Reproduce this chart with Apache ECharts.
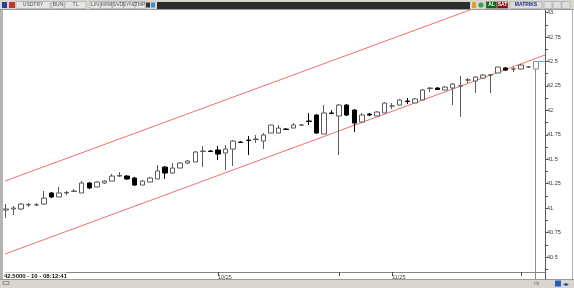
<!DOCTYPE html>
<html><head><meta charset="utf-8">
<script src="https://cdn.jsdelivr.net/npm/echarts@6/dist/echarts.min.js"></script>
<style>html,body{margin:0;padding:0;background:#fff;overflow:hidden}#c{width:574px;height:288px}</style>
</head><body><div id="c"></div>
<script>
// Daily USDTRY candles, left to right
const opens = [40.981,40.991,40.991,41.032,41.032,41.042,41.155,41.114,41.155,41.170,
41.155,41.257,41.216,41.257,41.277,41.328,41.328,41.308,41.236,41.267,
41.298,41.420,41.359,41.410,41.461,41.472,41.579,41.584,41.594,41.564,
41.604,41.676,41.696,41.702,41.686,41.768,41.768,41.809,41.819,41.850,
41.891,41.952,41.758,41.973,41.942,42.054,42.003,41.880,41.962,41.942,
41.973,42.044,42.054,42.095,42.075,42.106,42.223,42.228,42.208,42.228,
42.249,42.310,42.300,42.330,42.361,42.382,42.433,42.422,42.422,42.443,
42.422];
const closes = [40.991,41.001,41.042,41.037,41.033,41.103,41.114,41.155,41.160,41.175,
41.257,41.206,41.267,41.277,41.328,41.334,41.298,41.236,41.277,41.308,
41.380,41.359,41.410,41.461,41.482,41.574,41.584,41.579,41.553,41.604,
41.686,41.671,41.691,41.707,41.748,41.850,41.819,41.804,41.850,41.851,
41.886,41.768,41.973,41.967,42.054,41.952,41.870,41.952,41.952,41.983,
42.075,42.045,42.106,42.090,42.116,42.208,42.228,42.213,42.238,42.269,
42.250,42.311,42.341,42.361,42.362,42.443,42.412,42.423,42.463,42.444,
42.500];
const lows = [40.899,40.930,40.981,41.011,41.022,41.032,41.103,41.114,41.134,41.165,
41.155,41.195,41.216,41.247,41.277,41.318,41.288,41.226,41.236,41.267,
41.298,41.298,41.349,41.410,41.451,41.472,41.420,41.574,41.492,41.390,
41.431,41.666,41.543,41.666,41.604,41.768,41.768,41.799,41.819,41.840,
41.850,41.758,41.758,41.962,41.543,41.942,41.778,41.870,41.942,41.942,
41.973,42.013,42.054,42.065,42.075,42.106,42.187,42.208,42.208,42.054,
41.932,42.279,42.177,42.330,42.177,42.382,42.402,42.392,42.422,42.433,
40.200];
const highs = [41.042,41.022,41.052,41.052,41.052,41.175,41.165,41.216,41.175,41.195,
41.277,41.267,41.277,41.288,41.349,41.369,41.339,41.318,41.288,41.318,
41.441,41.431,41.461,41.472,41.492,41.584,41.635,41.594,41.635,41.645,
41.696,41.686,41.737,41.748,41.768,41.850,41.850,41.819,41.870,41.860,
41.973,41.962,42.054,42.003,42.065,42.065,42.013,41.973,41.973,41.993,
42.085,42.075,42.116,42.126,42.126,42.218,42.238,42.238,42.249,42.279,
42.351,42.330,42.351,42.371,42.371,42.443,42.443,42.443,42.474,42.453,
42.504];

const yTickLabels = [40.5,40.75,41,41.25,41.5,41.75,42,42.25,42.5,42.75,43];
const yMinorTicks = [40.375,40.5,40.625,40.75,40.875,41,41.125,41.25,41.375,41.5,41.625,41.75,41.875,42,42.125,42.25,42.375,42.5,42.625,42.75,42.875,43];
const xTickIndex = [28, 51];
const xTickLabels = ['10/25', '11/25'];
const xMarkerIndex = [28, 44, 51, 68];

// Regression channel end points
const channelX = [-0.132, 71.19];
const channelLower = [40.531, 42.566];
const channelUpper = [41.277, 43.309];
const lastPrice = 42.5;
const statusText = '42.5000 - 10 - 08:12:41';

const candleData = opens.map((o, i) => {
  const v = [i, o, closes[i], lows[i], highs[i]];
  return i === opens.length - 1 ? {value: v, itemStyle: {borderColor: '#8c8c8c'}} : v;
});
const FONT = 'Liberation Sans';

function btn(x, w, label, fill, color, bold) {
  const els = [{type:'rect', shape:{x:x, y:1.5, width:w, height:7}, style:{fill:fill, stroke:'#a4a4a4', lineWidth:0.6}, z:101}];
  if (label) els.push({type:'text', x:x + w/2, y:5, style:{text:label, fill:color, font:(bold?'bold ':'') + '5px ' + FONT, align:'center', verticalAlign:'middle'}, z:102});
  return els;
}

const graphics = [].concat(
  [{type:'rect', shape:{x:0,y:0,width:574,height:10}, style:{fill:'#d9d6d0'}, z:100},
   {type:'line', shape:{x1:0,y1:9.5,x2:574,y2:9.5}, style:{stroke:'#9a9a9a', lineWidth:1}, z:100},
   {type:'rect', shape:{x:2,y:2,width:5,height:6}, style:{fill:'#2a3c9c'}, z:101},
   {type:'rect', shape:{x:9,y:2,width:6,height:6}, style:{fill:'#c83030'}, z:101}],
  btn(16, 34, 'USDTRY', '#e6e6e6', '#555'),
  btn(52, 12, 'BUN', '#e6e6e6', '#555'),
  btn(65, 21, 'TL', '#e6e6e6', '#555'),
  btn(90, 10, 'LIN', '#e6e6e6', '#555'),
  btn(101, 11, 'KRM', '#e6e6e6', '#555'),
  btn(113, 10, 'SVD', '#e6e6e6', '#555'),
  btn(124, 11, 'SYNC', '#e6e6e6', '#555'),
  btn(135, 10, 'TMP', '#e6e6e6', '#555'),
  [{type:'rect', shape:{x:146,y:2.5,width:4,height:5}, style:{fill:'#333'}, z:101},
   {type:'rect', shape:{x:151,y:2.5,width:4,height:5}, style:{fill:'#3a8ee0'}, z:101},
   {type:'rect', shape:{x:157,y:2,width:313,height:7}, style:{fill:'#2c2c2c'}, z:101},
   {type:'rect', shape:{x:472,y:2,width:4,height:6}, style:{fill:'#e0a030'}, z:101},
   {type:'circle', shape:{cx:481,cy:5,r:2.6}, style:{fill:'#3aa04a'}, z:101}],
  btn(486, 11, 'AL', '#0e6a16', '#fff', true),
  btn(497, 11, 'SAT', '#8a1010', '#fff', true),
  btn(510, 32, 'MATRIKS', '#dcdcdc', '#1e2e88', true),
  btn(544, 8, '', '#e0e0e0', '#333'),
  btn(553, 8, '', '#e0e0e0', '#333'),
  btn(562, 8, '', '#e0e0e0', '#333'),
  [{type:'rect', shape:{x:0,y:10,width:3,height:270}, style:{fill:'#b4b4b4'}, z:100},
   {type:'line', shape:{x1:572.5,y1:10,x2:572.5,y2:280}, style:{stroke:'#b0b0b0', lineWidth:1}, z:100},
   {type:'line', shape:{x1:545.5,y1:272,x2:545.5,y2:280}, style:{stroke:'#555', lineWidth:1}, z:100},
   {type:'rect', shape:{x:0,y:280,width:574,height:8}, style:{fill:'#d9d6d0'}, z:100},
   {type:'line', shape:{x1:0,y1:279.5,x2:574,y2:279.5}, style:{stroke:'#9a9a9a', lineWidth:1}, z:100},
   {type:'rect', shape:{x:3,y:281.5,width:6,height:3}, style:{fill:'none', stroke:'#777', lineWidth:0.7}, z:101},
   {type:'text', x:534, y:284, style:{text:'ılıl', fill:'#666', font:'5px ' + FONT, verticalAlign:'middle'}, z:101},
   {type:'rect', shape:{x:555,y:280.5,width:6,height:6}, style:{fill:'#2a5cc0'}, z:101},
   {type:'text', x:563, y:284, style:{text:'◂▸', fill:'#2a4ca0', font:'6px ' + FONT, verticalAlign:'middle'}, z:101},
   {type:'rect', shape:{x:3,y:272.5,width:63,height:6.5}, style:{fill:'#fff'}, z:100},
   {type:'text', x:4, y:276, style:{text:statusText, fill:'#111', font:'bold 6px ' + FONT, verticalAlign:'middle'}, z:101}]
);

const chart = echarts.init(document.getElementById('c'), null, {renderer:'canvas'});
chart.setOption({
  animation: false,
  backgroundColor: '#fff',
  grid: {left: 5, right: 29, top: 10, bottom: 16},
  xAxis: {
    type: 'value', min: channelX[0], max: channelX[1],
    splitLine: {show: false},
    axisLine: {show: true, lineStyle: {color: '#888', width: 1}},
    axisTick: {show: true, customValues: xMarkerIndex, length: 4, lineStyle: {color: '#444'}},
    axisLabel: {show: true, customValues: xTickIndex, margin: 2, align: 'left', fontSize: 5.5, color: '#444', fontFamily: FONT,
      formatter: v => { const k = xTickIndex.indexOf(Math.round(v)); return k >= 0 ? xTickLabels[k] : ''; }}
  },
  yAxis: {
    type: 'value', position: 'right', min: 40.347, max: 43.026, scale: true,
    splitLine: {show: false},
    axisLine: {show: true, onZero: false, lineStyle: {color: '#555', width: 1}},
    axisTick: {show: true, customValues: yMinorTicks, length: 3, lineStyle: {color: '#555'}},
    axisLabel: {show: true, customValues: yTickLabels, margin: 2, fontSize: 5.5, color: '#333', fontFamily: FONT,
      formatter: v => (Math.abs(v - Math.round(v)) < 1e-9 ? Math.round(v) + '.' : String(v))}
  },
  series: [
    {type: 'line', data: [[channelX[0], channelUpper[0]], [channelX[1], channelUpper[1]]], showSymbol: false, symbol: 'none',
     lineStyle: {color: '#f07070', width: 1}, silent: true, clip: true, z: 1},
    {type: 'line', data: [[channelX[0], channelLower[0]], [channelX[1], channelLower[1]]], showSymbol: false, symbol: 'none',
     lineStyle: {color: '#f07070', width: 1}, silent: true, clip: true, z: 1},
    {type: 'line', data: [[70.3, lastPrice], [channelX[1], lastPrice]], showSymbol: false, symbol: 'none',
     lineStyle: {color: '#30c8d0', width: 1}, silent: true, z: 1},
    {type: 'candlestick', data: candleData, encode: {x: 0, y: [1, 2, 3, 4]}, barWidth: 5, clip: true, z: 3,
     itemStyle: {color: '#ffffff', color0: '#000000', borderColor: '#5a5a5a', borderColor0: '#000000', borderWidth: 1}}
  ],
  graphic: graphics
});
</script>
</body></html>
